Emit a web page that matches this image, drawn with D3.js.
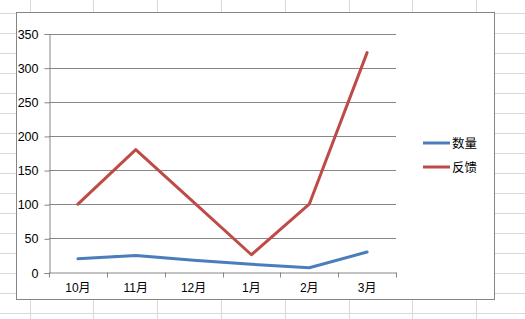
<!DOCTYPE html>
<html><head><meta charset="utf-8">
<script src="https://cdn.jsdelivr.net/npm/d3@7"></script>
<style>
html,body{margin:0;padding:0;background:#fff;}
svg{display:block;}
text{font-family:"Liberation Sans","Noto Sans CJK SC",sans-serif;}
</style></head>
<body>
<svg id="c" width="525" height="319"></svg>
<script>
const categories = ["10月","11月","12月","1月","2月","3月"];
const seriesNames = ["数量","反馈"];
const countValues = [20, 25, 18, 12, 7, 30];
const feedbackValues = [100, 180, 103, 26, 100, 322];
const yTicks = [0, 50, 100, 150, 200, 250, 300, 350];
const colors = ["#4a7ebb", "#be4b48"];

const svg = d3.select("#c");
const W = 525, H = 319;

// spreadsheet background grid
const bg = svg.append("g").attr("stroke", "#d9d9d9").attr("stroke-width", 1);
const colXs = d3.range(0, 8).map(i => 29.5 + i * 63.8);
const rowYs = d3.range(0, 16).map(i => 13.5 + i * 20);
colXs.forEach(x => {
  bg.append("line").attr("x1", Math.round(x) + 0.5).attr("x2", Math.round(x) + 0.5).attr("y1", 0).attr("y2", H);
});
rowYs.forEach(y => {
  bg.append("line").attr("x1", 0).attr("x2", W).attr("y1", y).attr("y2", y);
});

// chart area
svg.append("rect").attr("x", 16.5).attr("y", 12.5).attr("width", 478).attr("height", 287)
  .attr("fill", "#fff").attr("stroke", "#868686").attr("stroke-width", 1);

const x0 = 49, x1 = 396, yTop = 33.5, yBot = 272.5;
const x = d3.scaleBand().domain(categories).range([x0, x1]);
const y = d3.scaleLinear().domain([0, 350]).range([yBot, yTop]);

// horizontal gridlines
svg.append("g").selectAll("line").data(yTicks.filter(d => d > 0)).join("line")
  .attr("x1", x0).attr("x2", x1)
  .attr("y1", d => Math.round(y(d)) + 0.5).attr("y2", d => Math.round(y(d)) + 0.5)
  .attr("stroke", "#868686").attr("stroke-width", 1);

// y axis
const yAxis = d3.axisLeft(y).tickValues(yTicks).tickSize(5).tickPadding(6);
const gy = svg.append("g").attr("transform", `translate(${x0 + 0.5},0.5)`).call(yAxis);
gy.select(".domain").attr("stroke", "#868686");
gy.selectAll(".tick line").attr("stroke", "#868686");
gy.selectAll(".tick text").attr("font-size", 12.5).attr("fill", "#000")
  .style("font-family", "'Liberation Sans',sans-serif");

// x axis
const xAxis = d3.axisBottom(x).tickSize(0).tickPadding(11);
const gx = svg.append("g").attr("transform", `translate(0,${yBot})`).call(xAxis);
gx.select(".domain").attr("stroke", "#868686").attr("d", `M${x0 + 0.5},0.5H${x1 + 0.5}`);
gx.selectAll(".tick text").attr("font-size", 12).attr("fill", "#000");
// category boundary ticks
const bounds = categories.map(c => x(c)).concat([x1]);
gx.append("g").selectAll("line").data(bounds).join("line")
  .attr("x1", d => Math.round(d) + 0.5).attr("x2", d => Math.round(d) + 0.5)
  .attr("y1", 0).attr("y2", 5).attr("stroke", "#868686");

// lines
const line = d3.line().x((d, i) => x(categories[i]) + x.bandwidth() / 2).y(d => y(d));
[countValues, feedbackValues].forEach((vals, k) => {
  svg.append("path").datum(vals).attr("d", line)
    .attr("fill", "none").attr("stroke", colors[k]).attr("stroke-width", 3)
    .attr("stroke-linejoin", "round").attr("stroke-linecap", "round");
});

// legend
const leg = svg.append("g");
seriesNames.forEach((n, k) => {
  const ly = 143 + k * 24;
  leg.append("line").attr("x1", 423).attr("x2", 450).attr("y1", ly).attr("y2", ly)
    .attr("stroke", colors[k]).attr("stroke-width", 3);
  leg.append("text").attr("x", 452).attr("y", ly).attr("dy", "0.36em")
    .attr("font-size", 12.5).style("font-family", "'Noto Sans CJK SC',sans-serif").text(n);
});
</script>
</body></html>
